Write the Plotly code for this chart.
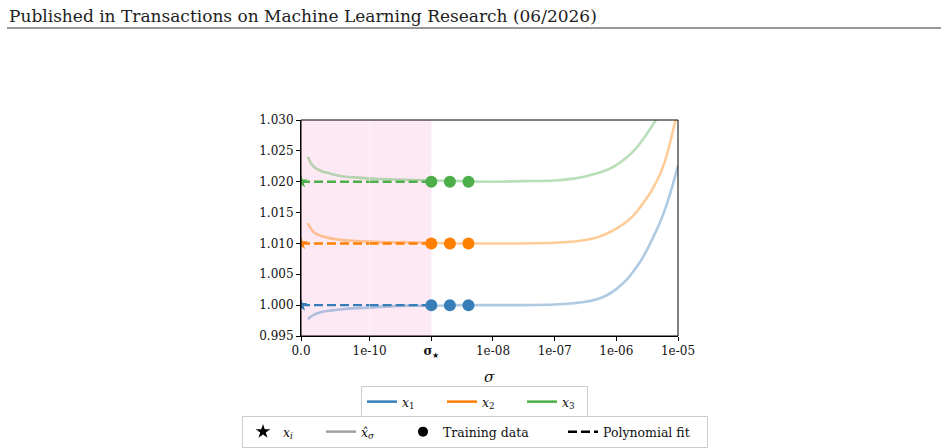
import plotly.graph_objects as go

# ---------------- data ----------------
sigma = [1e-11, 1.5e-11, 2e-11, 3e-11, 4e-11, 5e-11, 6.5e-11, 8e-11, 1e-10,
         2e-10, 4e-10, 1e-9, 3e-9, 1e-8, 3e-8, 1e-7, 2e-7, 3e-7, 5e-7, 7e-7,
         1e-6, 1.5e-6, 2e-6, 2.5e-6, 3e-6, 3.5e-6, 4e-6, 5e-6, 6e-6, 7e-6,
         8e-6, 9e-6, 1e-5]
xhat_1 = [0.9977, 0.9982, 0.9985, 0.9989, 0.9991, 0.9992, 0.9994, 0.9995, 0.9996,
          0.9998, 0.9999, 0.9999, 1.0000, 1.0000, 1.0000, 1.0001, 1.0003, 1.0005, 1.0010, 1.0016,
          1.0026, 1.0042, 1.0058, 1.0072, 1.0086, 1.0099, 1.0111, 1.0132, 1.0152, 1.0172,
          1.0191, 1.0209, 1.0226]
xhat_2 = [1.0133, 1.0123, 1.0117, 1.0112, 1.0109, 1.0107, 1.0105, 1.0104, 1.0103,
          1.0102, 1.0102, 1.0101, 1.0100, 1.0100, 1.0100, 1.0101, 1.0103, 1.0105, 1.0110, 1.0116,
          1.0124, 1.0136, 1.0148, 1.0160, 1.0171, 1.0181, 1.0191, 1.0210, 1.0230, 1.0253,
          1.0276, 1.0298, 1.0320]
xhat_3 = [1.0240, 1.0229, 1.0223, 1.0217, 1.0214, 1.0211, 1.0208, 1.0207, 1.0205,
          1.0204, 1.0203, 1.0202, 1.0201, 1.0200, 1.0201, 1.0202, 1.0205, 1.0208, 1.0214, 1.0219,
          1.0227, 1.0240, 1.0252, 1.0264, 1.0275, 1.0285, 1.0294, 1.0310, 1.0330, 1.0350,
          1.0370, 1.0390, 1.0410]
x_true = [1.000, 1.010, 1.020]           # x_i (star at sigma = 0)
sigma_star = 1e-9
sigma_train = [1e-9, 2e-9, 4e-9]
fit_sigma = [0.0, 1e-10, 1e-9]            # polynomial fit drawn from 0 to sigma_star
series_names = ["<i>x</i><sub>1</sub>", "<i>x</i><sub>2</sub>", "<i>x</i><sub>3</sub>"]
lin_thresh = 1e-10

y_ticks = [0.995, 1.000, 1.005, 1.010, 1.015, 1.020, 1.025, 1.030]
x_lin_ticks = [0.0, 1e-10]
x_lin_labels = ["0.0", "1e-10"]
x_log_ticks = [1e-9, 1e-8, 1e-7, 1e-6, 1e-5]
x_log_labels = ["<b>σ</b><sub>★</sub>", "1e-08", "1e-07", "1e-06", "1e-05"]

colors = ["#377eb8", "#ff7f00", "#4daf4a"]
alpha_rgba = ["rgba(55,126,184,0.4)", "rgba(255,127,0,0.4)", "rgba(77,175,74,0.4)"]
FONT = "DejaVu Serif"

fig = go.Figure()

curves = [xhat_1, xhat_2, xhat_3]
lin_idx = [i for i, s in enumerate(sigma) if s <= lin_thresh]
log_idx = [i for i, s in enumerate(sigma) if s >= lin_thresh]

# x_hat curves (light)
for k, ys in enumerate(curves):
    fig.add_trace(go.Scatter(x=[sigma[i] for i in lin_idx], y=[ys[i] for i in lin_idx],
                             xaxis="x", yaxis="y", mode="lines",
                             line=dict(color=alpha_rgba[k], width=2.6, shape="spline", smoothing=1),
                             showlegend=False, hoverinfo="skip"))
    fig.add_trace(go.Scatter(x=[sigma[i] for i in log_idx], y=[ys[i] for i in log_idx],
                             xaxis="x2", yaxis="y", mode="lines",
                             line=dict(color=alpha_rgba[k], width=2.6, shape="spline", smoothing=1),
                             showlegend=False, hoverinfo="skip"))

# polynomial fit (dashed) from 0 to sigma_star
for k in range(3):
    xs_l = [s for s in fit_sigma if s <= lin_thresh]
    xs_g = [s for s in fit_sigma if s >= lin_thresh]
    fig.add_trace(go.Scatter(x=xs_l, y=[x_true[k]] * len(xs_l), xaxis="x", yaxis="y",
                             mode="lines", line=dict(color=colors[k], width=2.4, dash="9px,4px"),
                             showlegend=False, hoverinfo="skip"))
    fig.add_trace(go.Scatter(x=xs_g, y=[x_true[k]] * len(xs_g), xaxis="x2", yaxis="y",
                             mode="lines", line=dict(color=colors[k], width=2.4, dash="9px,4px"),
                             showlegend=False, hoverinfo="skip"))

# x_i stars at sigma = 0
for k in range(3):
    fig.add_trace(go.Scatter(x=[0.0], y=[x_true[k]], xaxis="x", yaxis="y", mode="markers",
                             marker=dict(symbol="star", size=10, color=colors[k]),
                             showlegend=False, hoverinfo="skip"))

# training data
for k in range(3):
    fig.add_trace(go.Scatter(x=sigma_train, y=[x_true[k]] * len(sigma_train), xaxis="x2", yaxis="y",
                             mode="markers", marker=dict(symbol="circle", size=12, color=colors[k]),
                             showlegend=False, hoverinfo="skip"))

# legend 1 : series colours
lw1 = [35, 35, 20]
for k in range(3):
    fig.add_trace(go.Scatter(x=[None], y=[None], xaxis="x2", yaxis="y", mode="lines",
                             line=dict(color=colors[k], width=2.5),
                             name=series_names[k], legend="legend", legendwidth=lw1[k]))

# legend 2 : styles
fig.add_trace(go.Scatter(x=[None], y=[None], xaxis="x2", yaxis="y", mode="markers",
                         marker=dict(symbol="star", size=11, color="black"),
                         name="<i>x</i><sub><i>i</i></sub>", legend="legend2", legendwidth=33))
fig.add_trace(go.Scatter(x=[None], y=[None], xaxis="x2", yaxis="y", mode="lines",
                         line=dict(color="#a0a0a0", width=2.5),
                         name="<i>x̂</i><sub><i>σ</i></sub>", legend="legend2", legendwidth=37))
fig.add_trace(go.Scatter(x=[None], y=[None], xaxis="x2", yaxis="y", mode="markers",
                         marker=dict(symbol="circle", size=10, color="black"),
                         name="Training data", legend="legend2", legendwidth=115))
fig.add_trace(go.Scatter(x=[None], y=[None], xaxis="x2", yaxis="y", mode="lines",
                         line=dict(color="black", width=2.5, dash="9px,4px"),
                         name="Polynomial fit", legend="legend2", legendwidth=99))

split = 0.1821
tickfont = dict(family=FONT, size=12, color="#111")
axis_common = dict(showgrid=False, zeroline=False, ticks="outside", ticklen=4, tickwidth=1,
                   tickcolor="black", showline=True, linecolor="black", linewidth=1,
                   tickfont=tickfont)

PW, PH, L0, B0 = 377, 216, 301, 336   # plot area in pixels (for placing the legends/header)
legfont = dict(family=FONT, size=12.5, color="#111")

fig.update_layout(
    width=948, height=448,
    margin=dict(l=301, r=270, t=120, b=112, autoexpand=False),
    paper_bgcolor="white", plot_bgcolor="white",
    xaxis=dict(domain=[0, split], range=[0, lin_thresh], type="linear", anchor="y",
               tickvals=x_lin_ticks, ticktext=x_lin_labels, **axis_common),
    xaxis2=dict(domain=[split, 1], range=[-10, -5], type="log", anchor="y",
                tickvals=x_log_ticks, ticktext=x_log_labels, **axis_common),
    yaxis=dict(domain=[0, 1], range=[0.995, 1.030], anchor="x",
               tickvals=y_ticks, ticktext=[f"{v:.3f}" for v in y_ticks], **axis_common),
    legend=dict(orientation="h", xref="paper", yref="paper", x=(361 - L0) / PW, xanchor="left",
                y=(B0 - 386) / PH, yanchor="top", bordercolor="#cccccc", borderwidth=1,
                bgcolor="white", font=legfont),
    legend2=dict(orientation="h", xref="paper", yref="paper", x=(242 - L0) / PW, xanchor="left",
                 y=(B0 - 416) / PH, yanchor="top", bordercolor="#cccccc", borderwidth=1,
                 bgcolor="white", font=legfont),
    shapes=[
        dict(type="rect", xref="x", yref="paper", x0=0, x1=lin_thresh, y0=0, y1=1,
             fillcolor="rgba(231,41,138,0.1)", line=dict(width=0), layer="below"),
        dict(type="rect", xref="x2", yref="paper", x0=lin_thresh, x1=sigma_star, y0=0, y1=1,
             fillcolor="rgba(231,41,138,0.1)", line=dict(width=0), layer="below"),
        dict(type="rect", xref="paper", yref="paper", x0=0, x1=1, y0=0, y1=1,
             line=dict(color="black", width=1), layer="above"),
        dict(type="line", xref="paper", yref="paper", x0=(7 - L0) / PW, x1=(941 - L0) / PW,
             y0=(B0 - 28) / PH, y1=(B0 - 28) / PH, line=dict(color="#333", width=1.2)),
    ],
    annotations=[
        dict(text="Published in Transactions on Machine Learning Research (06/2026)",
             xref="paper", yref="paper", x=(7 - L0) / PW, y=(B0 - 16) / PH,
             xanchor="left", yanchor="middle", showarrow=False,
             font=dict(family=FONT, size=17, color="#222")),
        dict(text="<i>σ</i>", xref="paper", yref="paper", x=0.5, y=(B0 - 377) / PH,
             xanchor="center", yanchor="middle", showarrow=False,
             font=dict(family=FONT, size=15, color="#111")),
    ],
)

fig.write_html("out.html")
